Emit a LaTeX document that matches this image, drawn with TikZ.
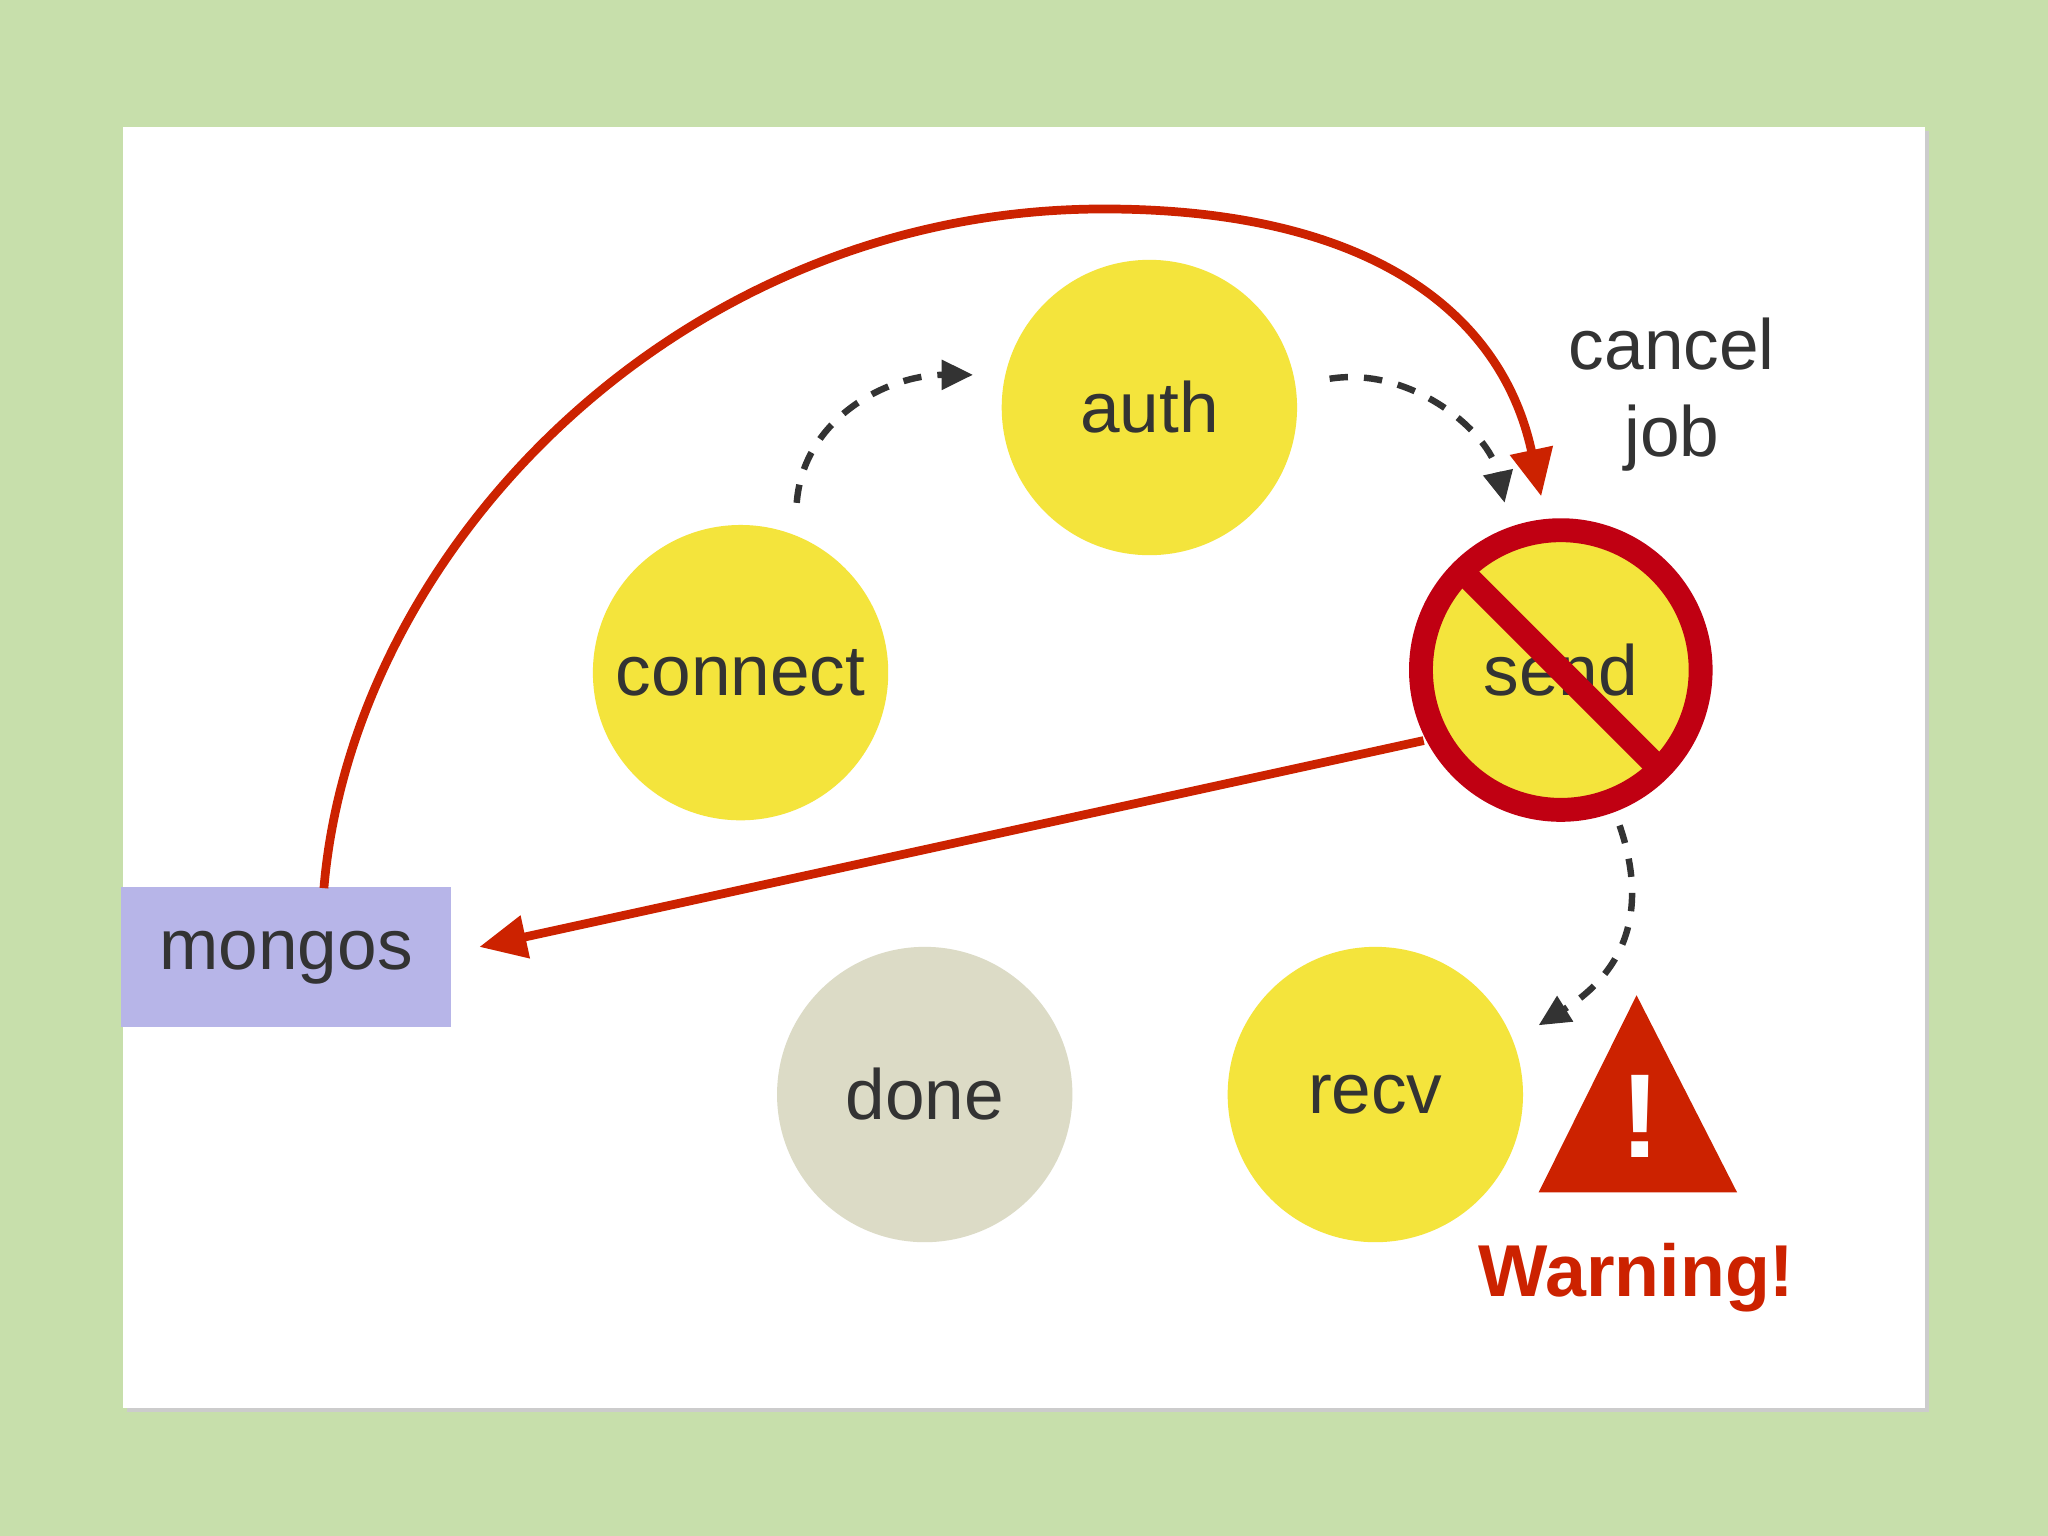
\documentclass[tikz,border=0pt]{standalone}
\usepackage{fontspec}
\setmainfont{Liberation Sans}
\usetikzlibrary{arrows.meta,calc}
\definecolor{bg}{HTML}{C7DFAB}
\definecolor{yel}{HTML}{F4E43C}
\definecolor{gry}{HTML}{DCDBC6}
\definecolor{lav}{HTML}{B7B5E8}
\definecolor{rd}{HTML}{CC2200}
\definecolor{nored}{HTML}{C00012}
\definecolor{txt}{HTML}{333333}
\tikzset{
  st/.style={circle,minimum size=2.26cm,inner sep=0pt,text=txt,font=\fontsize{15.5}{19}\selectfont},
  ys/.style={st,fill=yel},
  redarr/.style={draw=rd,line width=1.9pt,-{Triangle[length=0.36cm,width=0.32cm]}},
  dasharr/.style={draw=txt,line width=1.4pt,dashed,dash pattern=on 4pt off 3.5pt,-{Triangle[length=0.24cm,width=0.22cm]}}
}
\begin{document}
\begin{tikzpicture}[x=0.01cm,y=-0.01cm]
\useasboundingbox (0,0) rectangle (1568,1176);
\fill[bg] (0,0) rectangle (1568,1176);
\fill[black!20] (97,100) rectangle (1477,1081);
\fill[white] (94,97) rectangle (1474,1078);
\node[ys] (connect) at (567,515) {connect};
\node[ys] (auth) at (880,312) {auth};
\node[ys] (send) at (1195,513) {send};
\node[st,fill=gry] (done) at (708,838) {done};
\node[ys] (recv) at (1053,838) {recv};
\node[fill=lav,minimum width=2.52cm,minimum height=1.07cm,inner sep=0pt,text=txt,font=\fontsize{15.5}{19}\selectfont] (mongos) at (219,733) {mongos};
% no sign
\draw[nored,line width=5.2pt] (send.center) circle (1.07cm);
\draw[nored,line width=5.2pt] ($(send.center)+(-75,-75)$) -- ($(send.center)+(75,75)$);
\coordinate (c1) at (1180,380);
\coordinate (m1) at (248,680);
\draw[redarr] (m1) .. controls (270,420) and (520,160) .. (845,160) .. controls (1050,160) and (1150,240) .. (c1);
\coordinate (s1) at (1090,567);
\coordinate (m2) at (367,725);
\draw[redarr] (s1) -- (m2);
\draw[dasharr] (610,385) .. controls (615,320) and (680,287) .. (745,287);
\draw[dasharr] (1018,290) .. controls (1080,280) and (1140,330) .. (1152,385);
\draw[dasharr] (1240,632) .. controls (1260,690) and (1250,740) .. (1178,785);
\node[text=txt,font=\fontsize{15.5}{19}\selectfont,align=center] (cj) at (1280,302) {cancel\\job};
\fill[rd] (1253,762) -- (1330,913) -- (1178,913) -- cycle;
\node[text=white,font=\bfseries\fontsize{26}{28}\selectfont] (ex) at (1256,855) {!};
\node[text=rd,font=\bfseries\fontsize{16}{19}\selectfont] (warn) at (1253,978) {Warning!};
\end{tikzpicture}
\end{document}
